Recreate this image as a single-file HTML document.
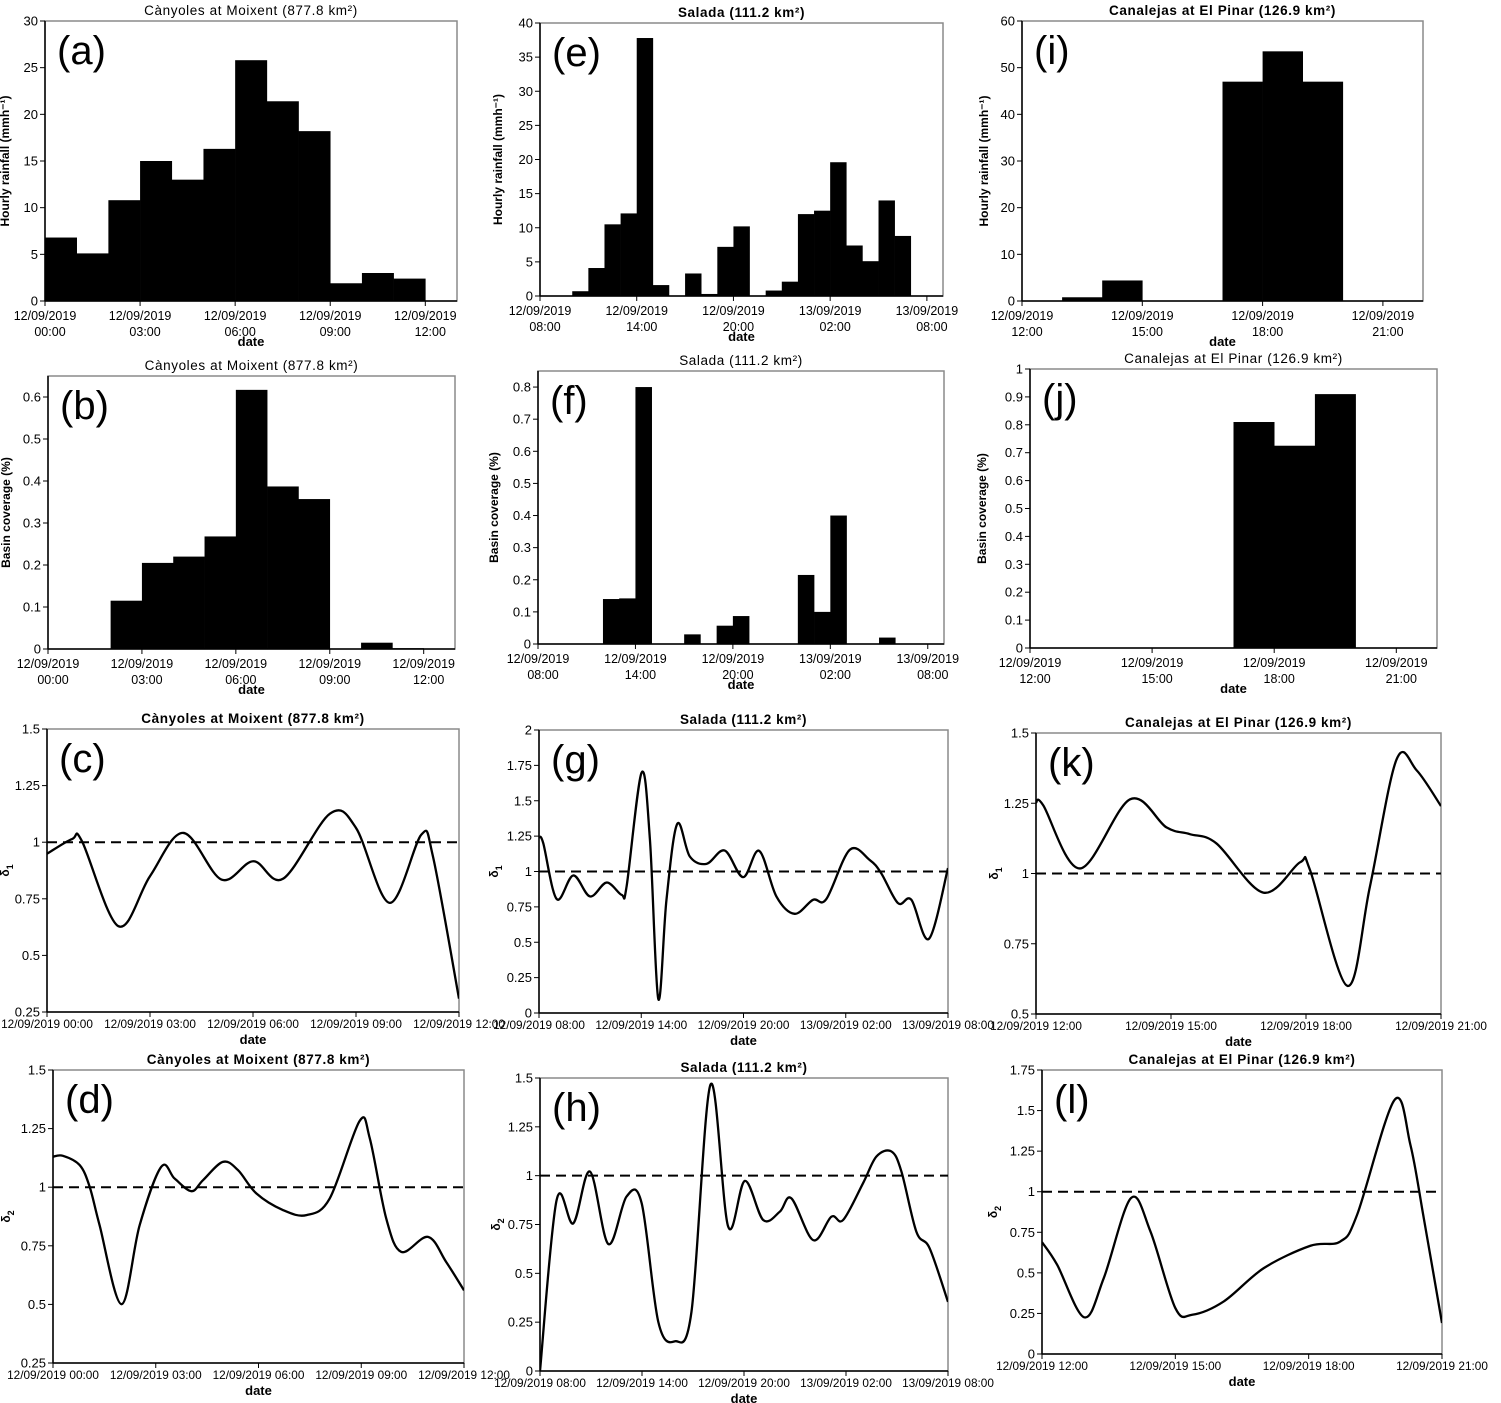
<!DOCTYPE html>
<html><head><meta charset="utf-8"><title>Rainfall panels</title>
<style>
html,body{margin:0;padding:0;background:#fff;}
svg{display:block;font-family:"Liberation Sans",Arial,sans-serif;}
</style></head>
<body>
<svg id="fig" width="1501" height="1403" viewBox="0 0 1501 1403" xmlns="http://www.w3.org/2000/svg"></svg>
<script>
// ---------- DATA ----------
const moixentTickHours = [0,3,6,9,12];
const moixentTickLabels = ['12/09/2019 00:00','12/09/2019 03:00','12/09/2019 06:00','12/09/2019 09:00','12/09/2019 12:00'];
const saladaTickHours = [0,6,12,18,24];
const saladaTickLabels = ['12/09/2019 08:00','12/09/2019 14:00','12/09/2019 20:00','13/09/2019 02:00','13/09/2019 08:00'];
const pinarTickHours = [0,3,6,9];
const pinarTickLabels = ['12/09/2019 12:00','12/09/2019 15:00','12/09/2019 18:00','12/09/2019 21:00'];

// (a) hourly rainfall, one value per hour starting 00:00
const aRain = [6.8,5.1,10.8,15.0,13.0,16.3,25.8,21.4,18.2,1.9,3.0,2.4];
const aYTicks = [0,5,10,15,20,25,30];
// (e) starting 08:00
const eRain = [0,0,0.7,4.1,10.5,12.1,37.8,1.6,0,3.3,0.3,7.2,10.2,0,0.8,2.1,12.0,12.5,19.6,7.4,5.1,14.0,8.8,0,0];
const eYTicks = [0,5,10,15,20,25,30,35,40];
// (i) starting 12:00
const iRain = [0,0.8,4.4,0,0,47,53.5,47,0,0];
const iYTicks = [0,10,20,30,40,50,60];
// (b) basin coverage
const bCover = [0,0,0.115,0.205,0.22,0.268,0.617,0.387,0.357,0,0.015,0.002];
const bYTicks = [0,0.1,0.2,0.3,0.4,0.5,0.6];
// (f)
const fCover = [0,0,0,0,0.14,0.142,0.8,0,0,0.03,0,0.057,0.087,0,0,0,0.215,0.1,0.4,0,0,0.02,0,0,0];
const fYTicks = [0,0.1,0.2,0.3,0.4,0.5,0.6,0.7,0.8];
// (j)
const jCover = [0,0,0,0,0,0.81,0.725,0.91,0,0];
const jYTicks = [0,0.1,0.2,0.3,0.4,0.5,0.6,0.7,0.8,0.9,1];

// (c) delta1 Moixent
const cHours = [0,0.73,1.02,2.08,3.0,3.97,5.08,6.01,6.88,8.24,9.0,9.98,10.9,11.24,12];
const cDelta = [0.949,1.014,1.004,0.629,0.85,1.041,0.835,0.916,0.839,1.126,1.063,0.732,1.033,0.938,0.309];
const cYTicks = [0.25,0.5,0.75,1,1.25,1.5];
// (g) delta1 Salada
const gHours = [0,0.25,1.04,2.01,2.99,3.97,4.85,5.14,6.02,6.51,7.0,7.48,8.11,8.85,9.83,10.9,11.98,12.92,13.93,15.0,16.08,16.86,18.23,19.4,20.08,21.07,21.85,22.88,24];
const gDelta = [1.242,1.2,0.805,0.972,0.824,0.922,0.835,0.894,1.699,1.224,0.099,0.8,1.336,1.106,1.054,1.148,0.96,1.146,0.824,0.701,0.8,0.805,1.153,1.082,0.988,0.776,0.8,0.524,1.024];
const gYTicks = [0,0.25,0.5,0.75,1,1.25,1.5,1.75,2];
// (k) delta1 El Pinar
const kHours = [0,0.16,0.98,2.09,2.9,3.42,4.01,5.05,5.87,6.09,6.92,7.42,8.01,8.46,9];
const kDelta = [1.253,1.243,1.018,1.264,1.164,1.14,1.107,0.932,1.04,1.012,0.6,0.953,1.405,1.367,1.24];
const kYTicks = [0.5,0.75,1,1.25,1.5];
// (d) delta2 Moixent
const dHours = [0,0.29,0.78,1.07,1.36,2.0,2.53,3.16,3.55,4.04,4.38,4.96,5.4,5.94,6.72,7.4,8.08,8.95,9.25,9.73,10.17,10.95,11.48,12];
const dDelta = [1.13,1.134,1.094,1.002,0.838,0.501,0.838,1.087,1.037,0.983,1.03,1.108,1.073,0.973,0.902,0.881,0.952,1.282,1.208,0.866,0.724,0.788,0.681,0.56];
const dYTicks = [0.25,0.5,0.75,1,1.25,1.5];
// (h) delta2 Salada
const hHours = [0,0.98,1.96,2.94,4.02,5.09,5.98,6.96,7.93,8.91,10.03,11.07,12.05,13.13,14.11,14.79,16.07,17.14,17.83,19.0,19.79,20.67,21.26,22.14,22.92,24];
const hDelta = [0,0.876,0.756,1.021,0.65,0.893,0.859,0.251,0.152,0.303,1.466,0.739,0.973,0.773,0.816,0.884,0.67,0.79,0.773,0.961,1.098,1.124,1.021,0.713,0.628,0.354];
const hYTicks = [0,0.25,0.5,0.75,1,1.25,1.5];
// (l) delta2 El Pinar
const lHours = [0,0.34,0.95,1.39,2.0,2.44,3.0,3.38,4.09,4.99,6.04,6.71,7.09,7.93,8.29,8.59,9];
const lDelta = [0.689,0.55,0.226,0.468,0.96,0.755,0.283,0.242,0.324,0.529,0.667,0.693,0.858,1.565,1.288,0.837,0.191];
const lYTicks = [0,0.25,0.5,0.75,1,1.25,1.5,1.75];

// ---------- RENDER ----------
const NS = 'http://www.w3.org/2000/svg';
const svg = document.getElementById('fig');
function mk(tag, attrs, parent){
  const e = document.createElementNS(NS, tag);
  for (const k in attrs) e.setAttribute(k, attrs[k]);
  parent.appendChild(e);
  return e;
}
function txt(str, attrs, parent){
  const t = mk('text', attrs, parent);
  t.textContent = str;
  return t;
}
function smoothPath(pts){
  let d = 'M' + pts[0][0].toFixed(2) + ' ' + pts[0][1].toFixed(2);
  for (let i = 0; i < pts.length - 1; i++){
    const p0 = pts[i-1] || pts[i], p1 = pts[i], p2 = pts[i+1], p3 = pts[i+2] || pts[i+1];
    const c1x = p1[0] + (p2[0]-p0[0])/6, c1y = p1[1] + (p2[1]-p0[1])/6;
    const c2x = p2[0] - (p3[0]-p1[0])/6, c2y = p2[1] - (p3[1]-p1[1])/6;
    d += ' C' + c1x.toFixed(2)+' '+c1y.toFixed(2)+' '+c2x.toFixed(2)+' '+c2y.toFixed(2)+' '+p2[0].toFixed(2)+' '+p2[1].toFixed(2);
  }
  return d;
}

let clipId = 0;
function drawPanel(p){
  const g = mk('g', {}, svg);
  
  
  const sx = h => p.x0 + (h - p.xmin) / (p.xmax - p.xmin) * (p.x1 - p.x0);
  const sy = v => p.y1 - (v - p.ymin) / (p.ymax - p.ymin) * (p.y1 - p.y0);

  const frame = mk('rect', {x:p.x0, y:p.y0, width:p.x1-p.x0, height:p.y1-p.y0, fill:'#fff', stroke:'#8a8a8a', 'stroke-width':1.5}, g);
  
  

  const title = txt('', {x:(p.x0+p.x1)/2, y:p.y0-6, 'text-anchor':'middle', 'font-size':13.5, 'font-weight':p.titleBold?'bold':'normal', 'letter-spacing':'0.6'}, g);
  title.textContent = p.title;
  
  

  if (p.bars){
    p.bars.forEach((v, i) => {
      if (v <= 0) return;
      const bx = sx(p.xmin + i), bw = sx(p.xmin + i + 1) - bx, by = sy(v);
      const r = mk('rect', {x:bx, y:by, width:bw+0.3, height:sy(0)-by, fill:'#000'}, g);
      
      
    });
  }
  if (p.lineX){
    const cid = 'clip' + (clipId++);
    const cp = mk('clipPath', {id:cid}, g);
    mk('rect', {x:p.x0, y:p.y0, width:p.x1-p.x0, height:p.y1-p.y0}, cp);
    const ref = mk('line', {x1:p.x0, x2:p.x1, y1:sy(1), y2:sy(1), stroke:'#000', 'stroke-width':2, 'stroke-dasharray':'10,6'}, g);
    
    
    const pts = p.lineX.map((h, i) => [sx(h), sy(p.lineY[i])]);
    const path = mk('path', {d:smoothPath(pts), fill:'none', stroke:'#000', 'stroke-width':2.3, 'clip-path':'url(#'+cid+')'}, g);
    
    
  }

  const ax = mk('line', {x1:p.x0, x2:p.x0, y1:p.y0, y2:p.y1, stroke:'#000', 'stroke-width':1.5}, g);
  
  
  const bx = mk('line', {x1:p.x0, x2:p.x1, y1:p.y1, y2:p.y1, stroke:'#000', 'stroke-width':1.5}, g);
  
  

  p.yTicks.forEach(v => {
    const y = sy(v);
    mk('line', {x1:p.x0-5, x2:p.x0, y1:y, y2:y, stroke:'#000', 'stroke-width':1}, g);
    const t = txt(String(v), {x:p.x0-7, y:y+4.5, 'text-anchor':'end', 'font-size':13}, g);
    
    
  });
  p.xTickHours.forEach((h, i) => {
    const x = sx(h);
    mk('line', {x1:x, x2:x, y1:p.y1, y2:p.y1+5, stroke:'#000', 'stroke-width':1}, g);
    const lab = p.xTickLabels[i];
    if (p.twoLine){
      const parts = lab.split(' ');
      const t1 = txt(parts[0], {x:x, y:p.y1+19, 'text-anchor':'middle', 'font-size':12.5}, g);
      
      
      const t2 = txt(parts[1], {x:x+5, y:p.y1+35, 'text-anchor':'middle', 'font-size':12.5}, g);
      
      
    } else {
      const t = txt(lab, {x:x, y:p.y1+16, 'text-anchor':'middle', 'font-size':11.8}, g);
      
      
    }
  });
  const xt = txt('date', {x:(p.x0+p.x1)/2, y:p.y1 + (p.twoLine?45:32), 'text-anchor':'middle', 'font-size':13, 'font-weight':'bold'}, g);
  
  
  const yc = (p.y0+p.y1)/2, yx = p.x0 - p.yTitleOff;
  const yt = txt('', {x:yx, y:yc, 'text-anchor':'middle', 'font-size':12, 'font-weight':'bold', transform:'rotate(-90 '+yx+' '+yc+')'}, g);
  yt.textContent = p.yTitle;
  if (p.yTitleSub){
    const s = mk('tspan', {'font-size':9, dy:4}, yt);
    s.textContent = p.yTitleSub;
  }
  
  
  const pl = txt('(' + p.letter + ')', {x:p.x0+12, y:p.y0+43, 'font-size':40}, g);
  
  
}

const TM = 'Cànyoles at Moixent (877.8 km²)';
const TS = 'Salada (111.2 km²)';
const TP = 'Canalejas at El Pinar (126.9 km²)';
const RAIN = 'Hourly rainfall (mmh⁻¹)';
const COV = 'Basin coverage (%)';

drawPanel({letter:'a', title:TM, titleBold:false, x0:45,y0:21,x1:457,y1:301, xmin:0,xmax:13, ymin:0,ymax:30, bars:aRain, yTicks:aYTicks, xTickHours:moixentTickHours, xTickLabels:moixentTickLabels, twoLine:true, yTitle:RAIN, yTitleOff:36});
drawPanel({letter:'e', title:TS, titleBold:true, x0:540,y0:23,x1:943,y1:296, xmin:0,xmax:25, ymin:0,ymax:40, bars:eRain, yTicks:eYTicks, xTickHours:saladaTickHours, xTickLabels:saladaTickLabels, twoLine:true, yTitle:RAIN, yTitleOff:38});
drawPanel({letter:'i', title:TP, titleBold:true, x0:1022,y0:21,x1:1423,y1:301, xmin:0,xmax:10, ymin:0,ymax:60, bars:iRain, yTicks:iYTicks, xTickHours:pinarTickHours, xTickLabels:pinarTickLabels, twoLine:true, yTitle:RAIN, yTitleOff:34});
drawPanel({letter:'b', title:TM, titleBold:false, x0:48,y0:376,x1:455,y1:649, xmin:0,xmax:13, ymin:0,ymax:0.65, bars:bCover, yTicks:bYTicks, xTickHours:moixentTickHours, xTickLabels:moixentTickLabels, twoLine:true, yTitle:COV, yTitleOff:38});
drawPanel({letter:'f', title:TS, titleBold:false, x0:538,y0:371,x1:944,y1:644, xmin:0,xmax:25, ymin:0,ymax:0.85, bars:fCover, yTicks:fYTicks, xTickHours:saladaTickHours, xTickLabels:saladaTickLabels, twoLine:true, yTitle:COV, yTitleOff:40});
drawPanel({letter:'j', title:TP, titleBold:false, x0:1030,y0:369,x1:1437,y1:648, xmin:0,xmax:10, ymin:0,ymax:1, bars:jCover, yTicks:jYTicks, xTickHours:pinarTickHours, xTickLabels:pinarTickLabels, twoLine:true, yTitle:COV, yTitleOff:44});
drawPanel({letter:'c', title:TM, titleBold:true, x0:47,y0:729,x1:459,y1:1012, xmin:0,xmax:12, ymin:0.25,ymax:1.5, lineX:cHours, lineY:cDelta, yTicks:cYTicks, xTickHours:moixentTickHours, xTickLabels:moixentTickLabels, twoLine:false, yTitle:'δ', yTitleSub:'1', yTitleOff:38});
drawPanel({letter:'g', title:TS, titleBold:true, x0:539,y0:730,x1:948,y1:1013, xmin:0,xmax:24, ymin:0,ymax:2, lineX:gHours, lineY:gDelta, yTicks:gYTicks, xTickHours:saladaTickHours, xTickLabels:saladaTickLabels, twoLine:false, yTitle:'δ', yTitleSub:'1', yTitleOff:41});
drawPanel({letter:'k', title:TP, titleBold:true, x0:1036,y0:733,x1:1441,y1:1014, xmin:0,xmax:9, ymin:0.5,ymax:1.5, lineX:kHours, lineY:kDelta, yTicks:kYTicks, xTickHours:pinarTickHours, xTickLabels:pinarTickLabels, twoLine:false, yTitle:'δ', yTitleSub:'1', yTitleOff:38});
drawPanel({letter:'d', title:TM, titleBold:true, x0:53,y0:1070,x1:464,y1:1363, xmin:0,xmax:12, ymin:0.25,ymax:1.5, lineX:dHours, lineY:dDelta, yTicks:dYTicks, xTickHours:moixentTickHours, xTickLabels:moixentTickLabels, twoLine:false, yTitle:'δ', yTitleSub:'2', yTitleOff:43});
drawPanel({letter:'h', title:TS, titleBold:true, x0:540,y0:1078,x1:948,y1:1371, xmin:0,xmax:24, ymin:0,ymax:1.5, lineX:hHours, lineY:hDelta, yTicks:hYTicks, xTickHours:saladaTickHours, xTickLabels:saladaTickLabels, twoLine:false, yTitle:'δ', yTitleSub:'2', yTitleOff:40});
drawPanel({letter:'l', title:TP, titleBold:true, x0:1042,y0:1070,x1:1442,y1:1354, xmin:0,xmax:9, ymin:0,ymax:1.75, lineX:lHours, lineY:lDelta, yTicks:lYTicks, xTickHours:pinarTickHours, xTickLabels:pinarTickLabels, twoLine:false, yTitle:'δ', yTitleSub:'2', yTitleOff:45});
</script>
</body></html>
